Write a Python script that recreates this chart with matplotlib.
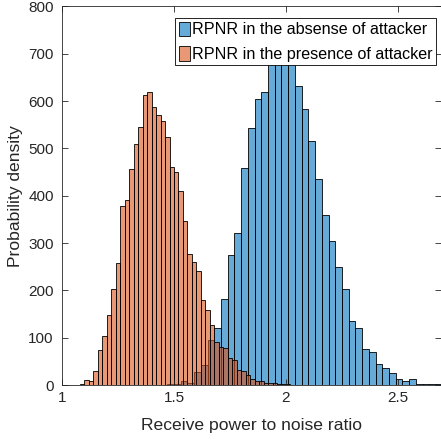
import numpy as np
import matplotlib
matplotlib.use("Agg")
import matplotlib.pyplot as plt

# ---- data ----
blue_start = 1.47
blue_width = 0.03
blue_heights = [2, 3, 8, 5, 28, 43, 96, 120, 181, 274, 322, 458, 543, 605, 620,
                690, 720, 715, 685, 632, 583, 515, 435, 359, 305, 250, 202, 135,
                120, 76, 70, 44, 35, 25, 13, 9, 13, 3, 2, 1.5, 2]

orange_start = 1.06
orange_width = 0.02
orange_heights = [1, 3, 10, 8, 29, 73, 103, 147, 203, 258, 378, 390, 456, 509, 545,
                  614, 619, 588, 571, 557, 525, 461, 450, 409, 347, 277, 261, 240,
                  179, 159, 127, 90, 81, 78, 58, 53, 31, 29, 21, 12, 9.5, 9.5, 5, 5,
                  3.5, 3, 2.5, 2, 1, 0.5]

labels = ["RPNR in the absense of attacker", "RPNR in the presence of attacker"]
xticks = [1, 1.5, 2, 2.5]
xticklabels = ["1", "1.5", "2", "2.5"]
yticks = [0, 100, 200, 300, 400, 500, 600, 700, 800]

plt.rcParams['font.family'] = ['Liberation Sans', 'DejaVu Sans']

fig = plt.figure(figsize=(4.41, 4.40), dpi=100)
ax = fig.add_axes([62 / 441, 1 - 385 / 440, (440.5 - 62) / 441, (385 - 6.5) / 440])

blue_face = (0.0, 0.447, 0.741, 0.6)
orange_face = (0.85, 0.325, 0.098, 0.6)

bl = blue_start + blue_width * np.arange(len(blue_heights))
ol = orange_start + orange_width * np.arange(len(orange_heights))

ax.bar(bl, blue_heights, width=blue_width, align='edge', facecolor=blue_face,
       edgecolor='black', linewidth=0.6, label=labels[0])
ax.bar(ol, orange_heights, width=orange_width, align='edge', facecolor=orange_face,
       edgecolor='black', linewidth=0.6, label=labels[1])

ax.set_xlim(1, 2.69)
ax.set_ylim(0, 800)
ax.set_xticks(xticks)
ax.set_xticklabels(xticklabels)
ax.set_yticks(yticks)

axcol = '#262626'
for s in ax.spines.values():
    s.set_color(axcol)
    s.set_linewidth(0.6)
ax.tick_params(direction='in', length=4, width=0.6, colors=axcol, labelsize=11,
               top=True, right=True)
ax.tick_params(axis='y', pad=6)
ax.tick_params(axis='x', pad=4.5)
ax.set_xlabel("Receive power to noise ratio", fontsize=12.6, color=axcol, labelpad=9)
ax.set_ylabel("Probability density", fontsize=12.6, color=axcol, labelpad=4)

leg = ax.legend(loc='upper right', fontsize=11.6, frameon=True, fancybox=False,
                framealpha=1, edgecolor='black', borderpad=0.22, labelspacing=0.55,
                handlelength=0.7, handleheight=1.0, handletextpad=0.1,
                borderaxespad=0.0, bbox_to_anchor=(0.988, 0.9696))
leg.get_frame().set_linewidth(0.6)

fig.savefig("out.png", dpi=100)
